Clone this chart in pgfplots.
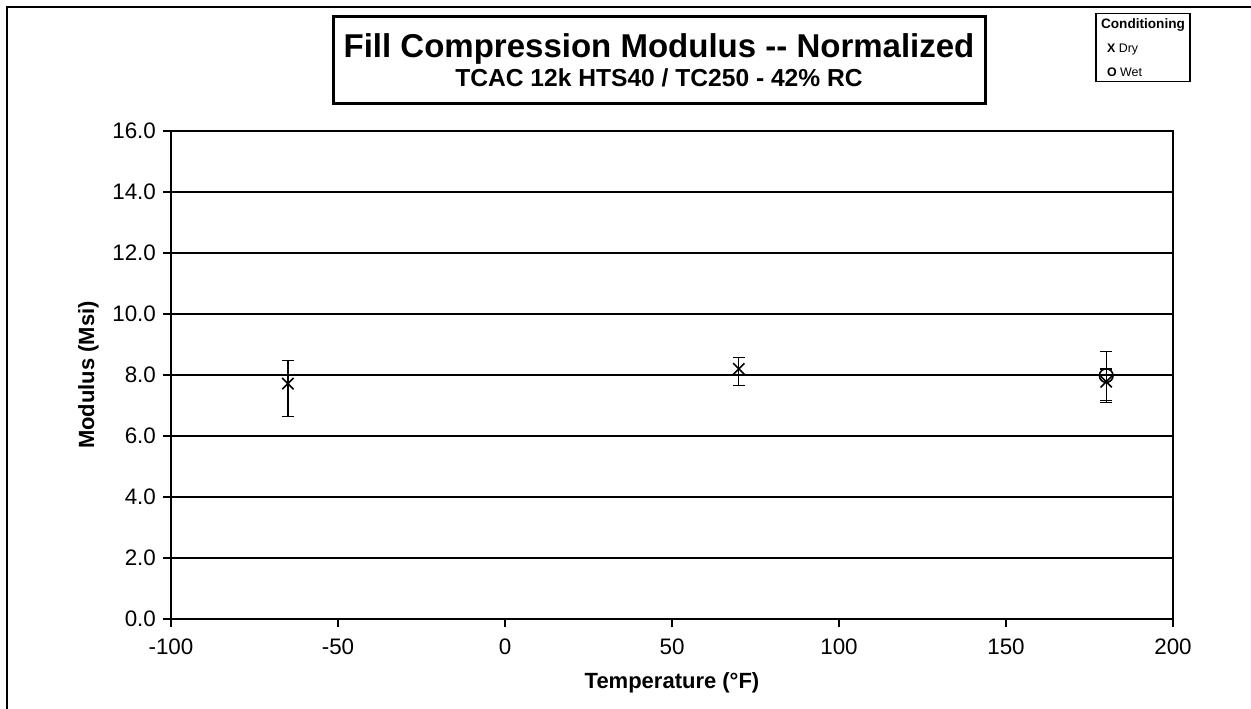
\documentclass[border=0pt]{standalone}
\usepackage{fontspec}
\setmainfont{Liberation Sans}
\usepackage{pgfplots}
\pgfplotsset{compat=1.18}

\begin{document}
\begin{tikzpicture}[x=0.5pt,y=0.5pt]
\useasboundingbox (0,0) rectangle (1251,708);
% outer chart frame (right and bottom edges fall outside the picture)
\draw[line width=0.7pt] (7,-10) -- (7,701) -- (1262,701);

\begin{axis}[
    at={(85.5pt,44.5pt)}, anchor=south west,
    scale only axis,
    width=501pt, height=244pt,
    xmin=-100, xmax=200,
    ymin=0, ymax=16,
    xtick={-100,-50,...,200},
    ytick={0,2,...,16},
    axis line style={line width=1.4pt},
    tick align=outside,
    major tick length=4pt,
    tick style={black, line width=0.6pt},
    xtick pos=bottom, ytick pos=left,
    ymajorgrids=true,
    grid style={black, line width=0.6pt},
    yticklabel style={/pgf/number format/.cd, fixed, fixed zerofill, precision=1},
    xticklabel style={yshift=-2.5pt},
    /pgf/number format/assume math mode=true,
    ticklabel style={font=\fontsize{11.2}{13}\selectfont},
    xlabel={\textbf{Temperature (°F)}},
    ylabel={\textbf{Modulus (Msi)}},
    label style={font=\fontsize{11}{13}\selectfont},
    xlabel style={yshift=-2pt},
    ylabel style={yshift=0pt},
    clip=false,
]
% Dry
\addplot[only marks, mark=x, mark size=4pt, black,
    mark options={line width=0.8pt},
    error bars/.cd, y dir=both, y explicit,
    error bar style={line width=0.6pt},
    error mark options={rotate=90, mark size=3pt, line width=0.6pt}]
table[x=x, y=y, y error plus=ep, y error minus=em] {
x    y     ep    em
-65  7.72  0.75  1.09
70   8.20  0.37  0.55
180  7.78  0.42  0.69
};
% Wet
\addplot[only marks, mark=o, mark size=3.4pt, black,
    mark options={line width=0.8pt},
    error bars/.cd, y dir=both, y explicit,
    error bar style={line width=0.6pt},
    error mark options={rotate=90, mark size=3pt, line width=0.6pt}]
table[x=x, y=y, y error plus=ep, y error minus=em] {
x    y     ep    em
180  7.98  0.79  0.81
};
\end{axis}

% title box
\node[draw, line width=1.5pt, minimum width=326pt, minimum height=43.5pt,
      align=center, inner sep=0pt] at (659,647.5)
  {{\fontsize{16.5}{19}\selectfont\bfseries Fill Compression Modulus -{}- Normalized}\\[1pt]
   {\fontsize{12.3}{14}\selectfont\bfseries TCAC 12k HTS40 / TC250 - 42\% RC}};

% conditioning key
\node[draw, line width=0.7pt, align=left, inner sep=2.5pt,
      minimum height=30.5pt] at (1143,660.5)
  {{\fontsize{6.8}{8}\selectfont\bfseries Conditioning}\\
   {\fontsize{6.2}{7.5}\selectfont\hspace{3pt}\textbf{X} Dry}\\
   {\fontsize{6.2}{7.5}\selectfont\hspace{3pt}\textbf{O} Wet}};
\end{tikzpicture}
\end{document}
